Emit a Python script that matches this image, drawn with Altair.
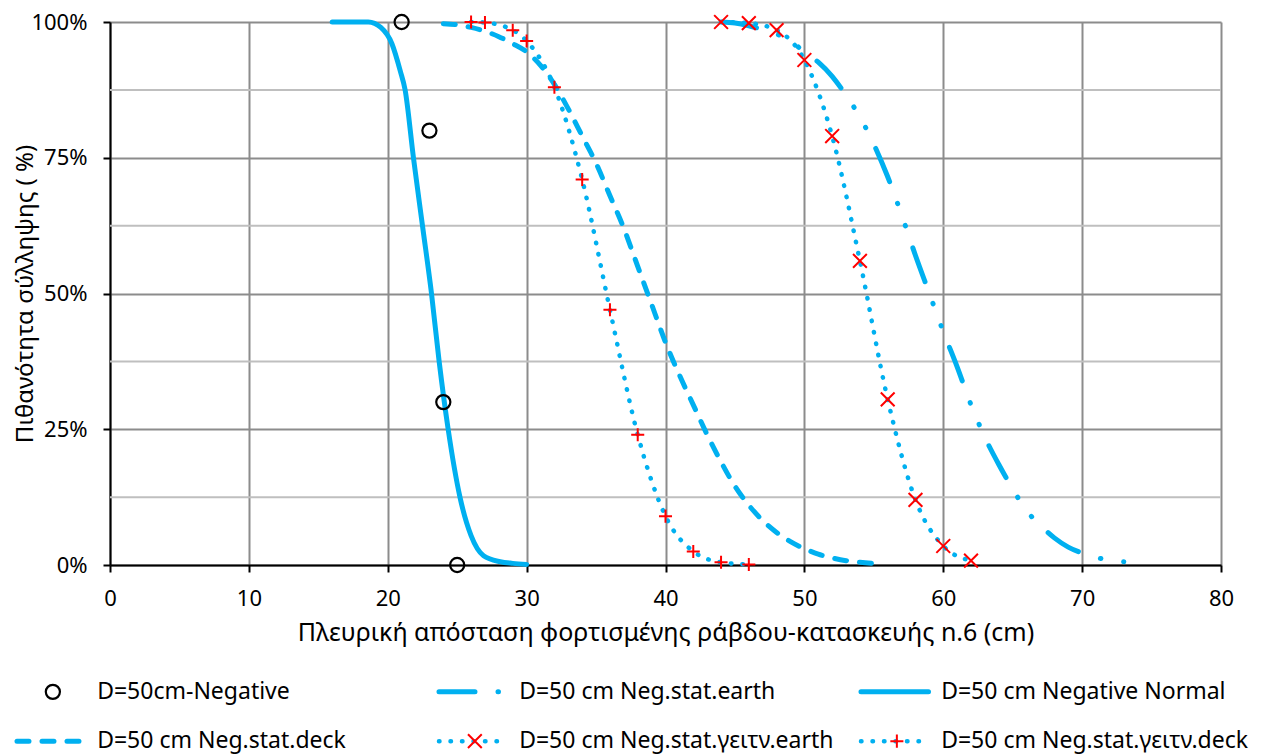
import altair as alt
import pandas as pd

BLUE = "#00B0F0"
RED = "#FF0000"
FONT = "Noto Sans"
GRID_DARK = "#8C8C8C"
GRID_LIGHT = "#BFBFBF"

# ---------------- data ----------------
neg_x = [21, 23, 24, 25]
neg_y = [100, 80, 30, 0]

normal_x = [16, 17, 18, 18.6, 19.5, 20.3, 20.9, 21.25, 21.85, 22.5, 23.15, 23.7,
            24.35, 25.2, 26.0, 26.9, 28.1, 29, 30]
normal_y = [100, 100, 100, 100, 99, 96, 91, 87.5, 75, 62.5, 50, 37.5,
            25, 12.5, 5.4, 1.7, 0.6, 0.3, 0.1]

deck_x = [24, 25, 26, 27, 28, 29, 30, 31, 32, 33, 34, 35, 36, 37, 38, 39, 40,
          41, 42, 43, 44, 45, 46, 47, 48, 49, 50, 51, 52, 53, 54, 55, 55.7]
deck_y = [99.7, 99.5, 99.0, 98.3, 97.3, 96, 94.5, 92, 88.5, 84, 79, 74, 68, 62,
          55, 48, 41, 35, 29.5, 24, 19, 14.5, 11, 8.2, 6, 4.3, 3, 2, 1.3, 0.8,
          0.5, 0.3, 0.2]

earth_x = [44, 45, 46, 47, 48, 49, 50, 51, 52, 53, 54, 55, 56, 57, 58, 59, 60,
           61, 62, 63, 64, 65, 66, 67, 68, 69, 70, 71, 72, 73]
earth_y = [100, 99.8, 99.3, 98.6, 97.8, 96.5, 94.5, 92.6, 90, 86.5, 82.5, 77.5,
           71.5, 64.5, 57, 50, 43, 36.5, 29.5, 23.5, 18.5, 14, 10, 7.3, 5, 3.3,
           2.2, 1.4, 0.9, 0.6]

gdeck_x = [26, 27, 29, 30, 32, 34, 36, 38, 40, 42, 44, 46]
gdeck_y = [100, 99.9, 98.5, 96.5, 88, 71, 47, 24, 9, 2.5, 0.5, 0.1]

gearth_x = [44, 46, 48, 50, 52, 54, 56, 58, 60, 62]
gearth_y = [100, 99.8, 98.5, 93, 79, 56, 30.5, 12, 3.5, 0.8]

x_ticks = [0, 10, 20, 30, 40, 50, 60, 70, 80]
y_ticks = [0, 25, 50, 75, 100]
y_minor = [12.5, 37.5, 62.5, 87.5]

legend_names = [
    "D=50cm-Negative",
    "D=50 cm Neg.stat.earth",
    "D=50 cm Negative Normal",
    "D=50 cm Neg.stat.deck",
    "D=50 cm Neg.stat.γειτν.earth",
    "D=50 cm Neg.stat.γειτν.deck",
]
legend_col = [0, 1, 2, 0, 1, 2]
legend_row = [0, 0, 0, 1, 1, 1]

x_title = "Πλευρική απόσταση  φορτισμένης ράβδου-κατασκευής n.6 (cm)"
y_title = "Πιθανότητα σύλληψης ( %)"

# ---------------- styles ----------------
PLUS_PATH = "M-1,0L1,0M0,-1L0,1"
X_PATH = "M-1,-1L1,1M-1,1L1,-1"
DASH_EARTH = [36, 23, 0.5, 23, 0.5, 23]
DASH_DECK = [12, 13]
DOTS = [0.5, 11]

W, H = 1111, 543

xs = alt.Scale(domain=[0, 80], nice=False, zero=False)
ys = alt.Scale(domain=[0, 100], nice=False, zero=False)

x_axis = alt.Axis(values=x_ticks, title=x_title, grid=True, gridColor=GRID_DARK,
                  gridWidth=2, domainColor="black", domainWidth=2, tickColor="black",
                  tickWidth=2, tickSize=7, labelFontSize=22, labelPadding=16,
                  labelFlush=False, labelOverlap=False,
                  labelFont=FONT, titleFont=FONT, titleFontSize=25,
                  titleFontWeight="normal", titlePadding=11, labelColor="black",
                  titleColor="black")
y_axis = alt.Axis(values=y_ticks, title=y_title, grid=True, gridColor=GRID_DARK,
                  gridWidth=2, domainColor="black", domainWidth=2, tickColor="black",
                  tickWidth=2, tickSize=7, labelFontSize=22, labelPadding=16,
                  labelFlush=False, labelOverlap=False,
                  labelExpr="datum.value + '%'", labelFont=FONT, titleFont=FONT,
                  titleFontSize=24, titleFontWeight="normal", labelColor="black",
                  titleColor="black", titleX=-85, titleY=H / 2, titleAngle=-90,
                  titleAlign="center", titleBaseline="middle")


def df(xv, yv):
    return pd.DataFrame({"x": xv, "y": yv})


def enc_xy():
    return dict(x=alt.X("x:Q", scale=xs, axis=x_axis),
                y=alt.Y("y:Q", scale=ys, axis=y_axis))


def line_layer(xv, yv, dash=None, width=4.5):
    kw = dict(color=BLUE, strokeWidth=width, interpolate="monotone", strokeCap="round",
              strokeJoin="round")
    if dash is not None:
        kw["strokeDash"] = dash
    return alt.Chart(df(xv, yv)).mark_line(**kw).encode(**enc_xy())


def point_layer(xv, yv, shape, size, color, sw):
    return alt.Chart(df(xv, yv)).mark_point(shape=shape, size=size, filled=False,
                                             stroke=color, strokeWidth=sw,
                                             opacity=1).encode(**enc_xy())


minor = alt.Chart(pd.DataFrame({"y": y_minor})).mark_rule(
    color=GRID_LIGHT, strokeWidth=2).encode(
    y=alt.Y("y:Q", scale=ys, axis=y_axis))

main = alt.layer(
    minor,
    line_layer(normal_x, normal_y, None, 5),
    line_layer(deck_x, deck_y, DASH_DECK, 5),
    line_layer(earth_x, earth_y, DASH_EARTH, 5),
    line_layer(gdeck_x, gdeck_y, DOTS, 4.5),
    line_layer(gearth_x, gearth_y, DOTS, 4.5),
    point_layer(neg_x, neg_y, "circle", 200, "black", 2.2),
    point_layer(gearth_x, gearth_y, X_PATH, 190, RED, 2),
    point_layer(gdeck_x, gdeck_y, PLUS_PATH, 170, RED, 2),
).properties(width=W, height=H)

# ---------------- legend (built from the name lists) ----------------
LW, LH = W, 69
COLW = 422.0
L0 = 0.2204
lx = alt.Scale(domain=[L0, L0 + LW / COLW], nice=False, zero=False)
ly = alt.Scale(domain=[-0.2, 1.2], nice=False, zero=False, reverse=True)

leg = pd.DataFrame({"name": legend_names, "col": legend_col, "row": legend_row})
leg["x0"] = leg["col"] + 0.0
leg["x1"] = leg["col"] + 0.16
leg["xm"] = leg["col"] + 0.085
leg["xt"] = leg["col"] + 0.19

line_styles = {
    "D=50 cm Neg.stat.earth": (DASH_EARTH, 5),
    "D=50 cm Negative Normal": (None, 5),
    "D=50 cm Neg.stat.deck": (DASH_DECK, 5),
    "D=50 cm Neg.stat.γειτν.earth": (DOTS, 4.5),
    "D=50 cm Neg.stat.γειτν.deck": (DOTS, 4.5),
}
marker_styles = {
    "D=50cm-Negative": ("circle", 200, "black", 2.2),
    "D=50 cm Neg.stat.γειτν.earth": (X_PATH, 190, RED, 2),
    "D=50 cm Neg.stat.γειτν.deck": (PLUS_PATH, 170, RED, 2),
}

leg_layers = []
for name, (dash, wdt) in line_styles.items():
    kw = dict(color=BLUE, strokeWidth=wdt, strokeCap="round")
    if dash is not None:
        kw["strokeDash"] = dash
    sub = leg[leg["name"] == name]
    leg_layers.append(alt.Chart(sub).mark_rule(**kw).encode(
        x=alt.X("x0:Q", scale=lx, axis=None), x2="x1:Q",
        y=alt.Y("row:Q", scale=ly, axis=None)))
for name, (shape, size, color, sw) in marker_styles.items():
    sub = leg[leg["name"] == name]
    leg_layers.append(alt.Chart(sub).mark_point(shape=shape, size=size, filled=False,
                                                stroke=color, strokeWidth=sw,
                                                opacity=1).encode(
        x=alt.X("xm:Q", scale=lx, axis=None),
        y=alt.Y("row:Q", scale=ly, axis=None)))
leg_layers.append(alt.Chart(leg).mark_text(align="left", baseline="middle", font=FONT,
                                           fontSize=23, color="black").encode(
    x=alt.X("xt:Q", scale=lx, axis=None),
    y=alt.Y("row:Q", scale=ly, axis=None),
    text="name:N"))

legend = alt.layer(*leg_layers).properties(width=LW, height=LH)

chart = alt.vconcat(main, legend, spacing=35).resolve_scale(
    x="independent", y="independent"
).properties(
    padding={"top": 2, "left": 5, "right": 5, "bottom": 0}
).configure(background="white", view=alt.ViewConfig(strokeWidth=0))

chart.save("out.html", embed_options={"renderer": "svg", "actions": False})
